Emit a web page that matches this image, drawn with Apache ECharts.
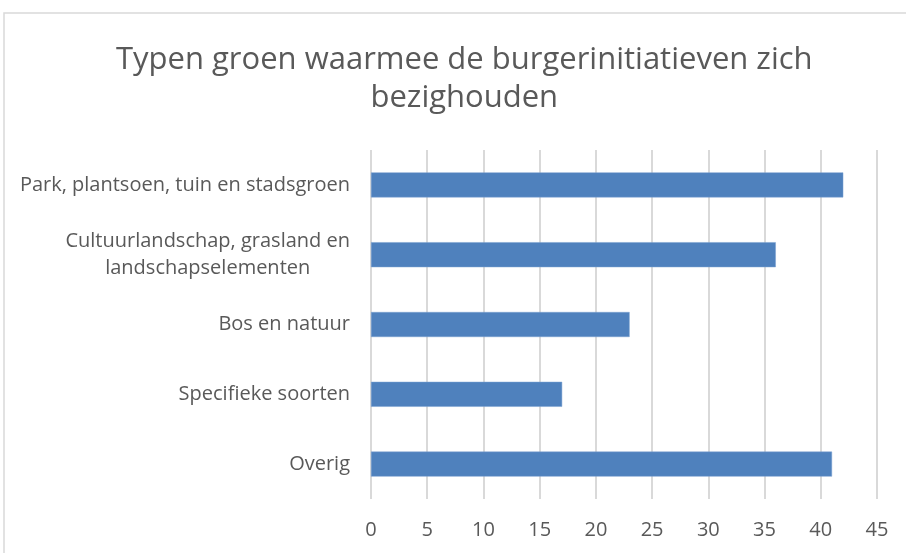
<!DOCTYPE html>
<html>
<head>
<meta charset="utf-8">
<script src="https://cdn.jsdelivr.net/npm/echarts@6/dist/echarts.min.js"></script>
<style>
  html, body { margin: 0; padding: 0; background: #fff; }
  #chart { width: 906px; height: 553px; }
</style>
</head>
<body>
<div id="chart"></div>
<script>
// categories top to bottom as in the picture
const categories = [
  'Park, plantsoen, tuin en stadsgroen',
  'Cultuurlandschap, grasland en\nlandschapselementen',
  'Bos en natuur',
  'Specifieke soorten',
  'Overig'
]
const values = [42, 36, 23, 17, 41]
const xTicks = [0, 5, 10, 15, 20, 25, 30, 35, 40, 45]
const titleLines = ['Typen groen waarmee de burgerinitiatieven zich', 'bezighouden']

const textColor = '#595959'
const gridColor = '#d9d9d9'
const font = 'Open Sans'

// wrap every line in a centred rich token so multi-line text is centred
function centred(lines) {
  return lines.map(function (l) { return '{c|' + l + '}' }).join('\n')
}

const chart = echarts.init(document.getElementById('chart'))

chart.setOption({
  animation: false,
  title: {
    text: centred(titleLines),
    left: 111,
    top: 36,
    textStyle: {
      fontFamily: font,
      fontWeight: 'normal',
      fontSize: 31,
      color: textColor,
      rich: {
        c: {
          align: 'center',
          fontFamily: font,
          fontSize: 31,
          lineHeight: 38,
          color: textColor
        }
      }
    }
  },
  graphic: [
    {
      type: 'rect',
      silent: true,
      shape: { x: 4, y: 13, width: 1200, height: 1200 },
      style: { fill: 'none', stroke: gridColor, lineWidth: 1.5 }
    }
  ],
  grid: {
    left: 371,
    right: 29,
    top: 150,
    bottom: 54
  },
  xAxis: {
    type: 'value',
    min: xTicks[0],
    max: xTicks[xTicks.length - 1],
    interval: 5,
    axisLine: { show: false },
    axisTick: { show: false },
    axisLabel: {
      margin: 21,
      fontFamily: font,
      fontSize: 20,
      color: textColor
    },
    splitLine: {
      lineStyle: { color: gridColor, width: 2 }
    }
  },
  yAxis: {
    type: 'category',
    inverse: true,
    data: categories,
    axisLine: { show: false },
    axisTick: { show: false },
    axisLabel: {
      margin: 21,
      fontFamily: font,
      fontSize: 20,
      color: textColor,
      formatter: function (v) {
        return centred(v.split('\n'))
      },
      rich: {
        c: {
          align: 'center',
          fontFamily: font,
          fontSize: 20,
          lineHeight: 27,
          color: textColor
        }
      }
    }
  },
  series: [
    {
      type: 'bar',
      data: values,
      barWidth: 25,
      itemStyle: {
        color: '#4f81bd',
        borderColor: '#7ba0d0',
        borderWidth: 0.5
      }
    }
  ]
})
</script>
</body>
</html>
